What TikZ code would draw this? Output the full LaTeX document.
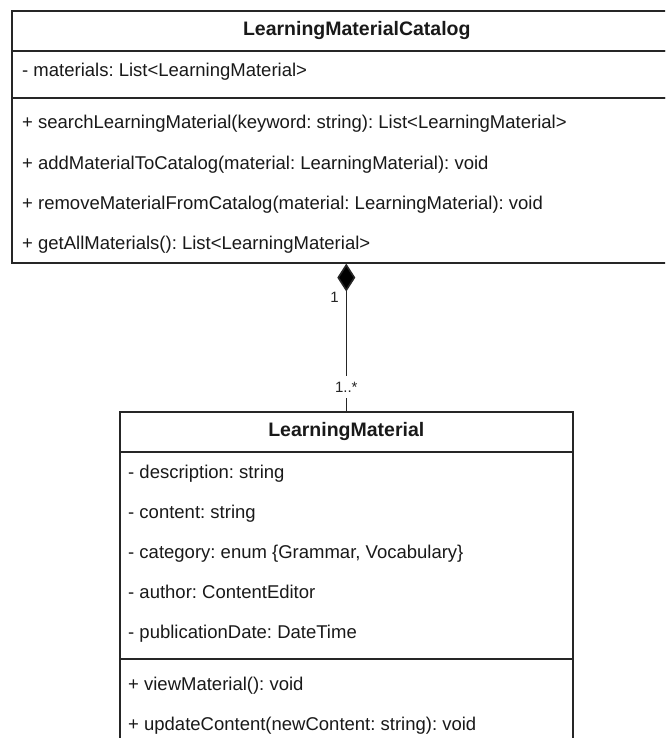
\documentclass[tikz,border=0pt]{standalone}
\usepackage{fontspec}
\setmainfont{Liberation Sans}
\frenchspacing
\usetikzlibrary{arrows.meta}

\tikzset{
  classpart/.style={draw=black!85, line width=1.6pt, fill=white, inner sep=0pt, anchor=north west},
  rowtext/.style={anchor=base west, inner sep=0pt, font=\fontsize{18.5}{22}\selectfont, text=black!90},
  titletext/.style={inner sep=0pt, font=\fontsize{19.5}{23}\selectfont\bfseries, text=black!90},
  multlabel/.style={inner sep=1pt, font=\fontsize{15}{17}\selectfont, text=black!85},
  composition/.style={draw=black!85, line width=1.6pt, {Diamond[length=28pt,width=18pt,fill=black]}-},
}

\begin{document}
\begin{tikzpicture}[x=1pt, y=-1pt]
  \clip (0,0) rectangle (665,738);
  \fill[white] (0,0) rectangle (665,738);

  % LearningMaterialCatalog
  \node[classpart, minimum width=690pt, minimum height=40pt] (catHead) at (11,10) {};
  \node[classpart, minimum width=690pt, minimum height=47pt] (catAttr) at (11,50) {};
  \node[classpart, minimum width=690pt, minimum height=165pt] (catOps) at (11,97) {};
  \node[titletext] (catTitle) at (catHead.center) {LearningMaterialCatalog};
  \node[rowtext] (catA1) at (22,77) {- materials: List<LearningMaterial>};
  \node[rowtext] (catO1) at (22,129) {+ searchLearningMaterial(keyword: string): List<LearningMaterial>};
  \node[rowtext] (catO2) at (22,169) {+ addMaterialToCatalog(material: LearningMaterial): void};
  \node[rowtext] (catO3) at (22,209) {+ removeMaterialFromCatalog(material: LearningMaterial): void};
  \node[rowtext] (catO4) at (22,249) {+ getAllMaterials(): List<LearningMaterial>};

  % LearningMaterial
  \node[classpart, minimum width=453pt, minimum height=40pt] (matHead) at (119,411) {};
  \node[classpart, minimum width=453pt, minimum height=207pt] (matAttr) at (119,451) {};
  \node[classpart, minimum width=453pt, minimum height=120pt] (matOps) at (119,658) {};
  \node[titletext] (matTitle) at (matHead.center) {LearningMaterial};
  \node[rowtext] (matA1) at (128,478) {- description: string};
  \node[rowtext] (matA2) at (128,518) {- content: string};
  \node[rowtext] (matA3) at (128,558) {- category: enum \{Grammar, Vocabulary\}};
  \node[rowtext] (matA4) at (128,598) {- author: ContentEditor};
  \node[rowtext] (matA5) at (128,638) {- publicationDate: DateTime};
  \node[rowtext] (matO1) at (128,690) {+ viewMaterial(): void};
  \node[rowtext] (matO2) at (128,730) {+ updateContent(newContent: string): void};

  % composition: catalog owns its materials
  \coordinate (compTop) at (matHead.north |- catOps.south);
  \draw[composition] (compTop) -- (matHead.north);
  \node[multlabel, anchor=east] (multOne) at (340,297) {1};
  \node[multlabel, fill=white, inner ysep=6pt] (multMany) at (matHead.north |- 0,387) {1..*};
\end{tikzpicture}
\end{document}
